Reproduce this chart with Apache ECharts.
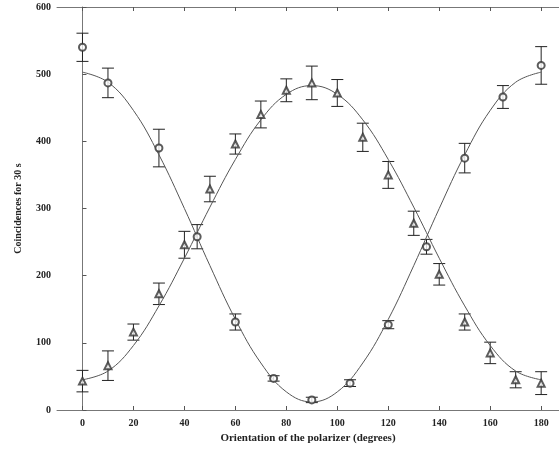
<!DOCTYPE html>
<html>
<head>
<meta charset="utf-8">
<script src="https://cdn.jsdelivr.net/npm/echarts@6/dist/echarts.min.js"></script>
<style>
  html, body { margin: 0; padding: 0; background: #fff; }
  #chart { width: 559px; height: 450px; }
</style>
</head>
<body>
<div id="chart"></div>
<script>
// circles: coincidences falling from 0 deg
var circleAngles = [0, 10, 30, 45, 60, 75, 90, 105, 120, 135, 150, 165, 180];
var circleCounts = [540, 487, 390, 258, 131, 47, 15, 40, 127, 243, 375, 466, 513];
var circleErrors = [21, 22, 28, 18, 12, 4, 4, 5, 6, 11, 22, 17, 28];

// triangles: coincidences rising from 0 deg
var triAngles = [0, 10, 20, 30, 40, 50, 60, 70, 80, 90, 100, 110, 120, 130, 140, 150, 160, 170, 180];
var triCounts = [43, 66, 116, 173, 246, 329, 396, 440, 476, 487, 472, 406, 350, 278, 202, 131, 85, 45, 40];
var triErrors = [16, 22, 12, 16, 20, 19, 15, 20, 17, 25, 20, 21, 20, 18, 16, 12, 16, 12, 17];

// fitted curves
var fitAngles = [0, 10, 20, 30, 40, 50, 60, 70, 80, 90, 100, 110, 120, 130, 140, 150, 160, 170, 180];
var fitCircle = [503, 488, 446, 380, 300, 215, 135, 70, 27, 12, 27, 70, 135, 215, 300, 380, 446, 488, 503];
var fitTri = [45, 58, 96, 155, 226, 302, 373, 432, 470, 483, 470, 432, 373, 302, 226, 155, 96, 58, 45];

var xTicks = [0, 20, 40, 60, 80, 100, 120, 140, 160, 180];

function pairs(xs, ys) {
    return xs.map(function (x, i) { return [x, ys[i]]; });
}
function bars(xs, ys, es) {
    return xs.map(function (x, i) { return [x, ys[i] - es[i], ys[i] + es[i]]; });
}

function renderErrorBar(params, api) {
    var x = api.value(0);
    var lo = api.coord([x, api.value(1)]);
    var hi = api.coord([x, api.value(2)]);
    var w = 6;
    var st = { stroke: '#222', lineWidth: 1 };
    return {
        type: 'group',
        children: [
            { type: 'line', shape: { x1: lo[0], y1: lo[1], x2: hi[0], y2: hi[1] }, style: st },
            { type: 'line', shape: { x1: lo[0] - w, y1: lo[1], x2: lo[0] + w, y2: lo[1] }, style: st },
            { type: 'line', shape: { x1: hi[0] - w, y1: hi[1], x2: hi[0] + w, y2: hi[1] }, style: st }
        ]
    };
}

var labelFont = { fontFamily: 'Liberation Serif', fontWeight: 'bold', fontSize: 10, color: '#222' };

var chart = echarts.init(document.getElementById('chart'));
var option = {
    animation: false,
    grid: { left: 57, right: 0, top: 7, bottom: 40 },
    xAxis: [
        {
            type: 'value',
            min: -10,
            max: 187,
            name: 'Orientation of the polarizer (degrees)',
            nameLocation: 'middle',
            nameGap: 21,
            nameTextStyle: { fontFamily: 'Liberation Serif', fontWeight: 'bold', fontSize: 11, color: '#222' },
            axisLine: { lineStyle: { color: '#777', width: 1 } },
            axisTick: { inside: true, length: 4, customValues: xTicks, lineStyle: { color: '#555' } },
            axisLabel: Object.assign({ customValues: xTicks, margin: 8 }, labelFont),
            splitLine: { show: false }
        },
        {
            type: 'value',
            position: 'top',
            min: -10,
            max: 187,
            axisLine: { lineStyle: { color: '#777', width: 1 } },
            axisTick: { inside: true, length: 4, customValues: xTicks, lineStyle: { color: '#555' } },
            axisLabel: { show: false },
            splitLine: { show: false }
        }
    ],
    yAxis: {
        type: 'value',
        min: 0,
        max: 600,
        interval: 100,
        name: 'Coincidences for 30 s',
        nameLocation: 'middle',
        nameGap: 34,
        nameTextStyle: { fontFamily: 'Liberation Serif', fontWeight: 'bold', fontSize: 10, color: '#222' },
        axisLine: { show: true, lineStyle: { color: '#777', width: 1 } },
        axisTick: { show: true, inside: true, length: 4, lineStyle: { color: '#555' } },
        axisLabel: Object.assign({ margin: 6 }, labelFont),
        splitLine: { show: false }
    },
    series: [
        {
            type: 'line',
            data: pairs(fitAngles, fitCircle),
            smooth: 0.4,
            showSymbol: false,
            lineStyle: { color: '#555', width: 1 }
        },
        {
            type: 'line',
            data: pairs(fitAngles, fitTri),
            smooth: 0.4,
            showSymbol: false,
            lineStyle: { color: '#555', width: 1 }
        },
        {
            type: 'custom',
            renderItem: renderErrorBar,
            data: bars(circleAngles, circleCounts, circleErrors),
            encode: { x: 0, y: [1, 2] },
            z: 3
        },
        {
            type: 'custom',
            renderItem: renderErrorBar,
            data: bars(triAngles, triCounts, triErrors),
            encode: { x: 0, y: [1, 2] },
            z: 3
        },
        {
            type: 'scatter',
            data: pairs(circleAngles, circleCounts),
            symbol: 'emptyCircle',
            symbolSize: 7,
            itemStyle: { color: '#333', borderColor: '#333', borderWidth: 1 },
            z: 4
        },
        {
            type: 'scatter',
            data: pairs(triAngles, triCounts),
            symbol: 'emptyTriangle',
            symbolSize: 7,
            itemStyle: { color: '#333', borderColor: '#333', borderWidth: 1 },
            z: 4
        }
    ]
};
chart.setOption(option);
</script>
</body>
</html>
